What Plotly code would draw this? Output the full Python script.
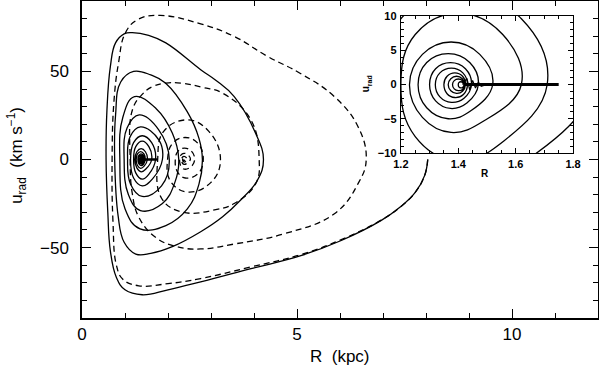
import plotly.graph_objects as go

# ---- data (R in kpc, u_rad in km/s) ----
solid_R = [8.04, 7.97, 7.74, 7.40, 6.96, 6.03, 5.09, 3.93, 2.76, 2.00, 1.40, 1.00, 0.80, 0.66, 0.60, 0.56,
           0.58, 0.66, 0.78, 0.98, 1.17, 1.55, 1.95, 2.76, 3.11, 3.54, 4.04, 4.22,
           4.08, 3.69, 3.27, 2.76, 2.10, 1.60, 1.25, 0.98, 0.84, 0.76, 0.78, 0.90, 1.20, 1.60, 1.94, 2.45, 2.72, 2.80,
           2.72, 2.45, 1.95, 1.35, 1.00, 0.88, 0.95, 1.22, 1.72, 2.10, 2.25,
           2.16, 1.87, 1.36, 1.08, 0.98, 1.05, 1.33, 1.78, 2.03,
           1.85, 1.40, 1.13, 1.06, 1.12, 1.36, 1.79, 1.87,
           1.64, 1.40, 1.20, 1.13, 1.20, 1.40, 1.62, 1.71,
           1.56, 1.40, 1.25, 1.20, 1.25, 1.40, 1.555, 1.62,
           1.49, 1.375, 1.275, 1.23, 1.275, 1.375, 1.475, 1.52,
           1.445, 1.365, 1.29, 1.26, 1.29, 1.365, 1.44, 1.47,
           1.43, 1.373, 1.321, 1.30, 1.321, 1.373, 1.425, 1.446,
           1.42, 1.376, 1.336, 1.32, 1.336, 1.376, 1.416, 1.432,
           1.418, 1.388, 1.361, 1.35, 1.361, 1.388, 1.415, 1.425,
           1.415, 1.394, 1.374, 1.365, 1.374, 1.394, 1.414, 1.422,
           1.416, 1.40, 1.386, 1.38, 1.386, 1.40, 1.414, 1.42,
           1.416, 1.409, 1.402, 1.40, 1.402, 1.409, 1.416, 1.418]
solid_u = [0, -9, -19, -27, -34.6, -46, -54.6, -62, -69.5, -74, -76.8, -74, -67, -52, -30, 0,
           28, 52.9, 66.2, 71.3, 72, 70.5, 66.2, 51, 45, 35.7, 14.8, 0,
           -11.8, -23, -32.5, -41, -49.5, -53.3, -53.7, -47, -32, 0, 25, 44, 50, 48, 43.4, 27, 12, 0,
           -14, -28, -37.5, -39.4, -28, 0, 24, 35.7, 29, 15, 0,
           -13, -25, -29, -20, 0, 18, 25.3, 17, 0,
           -15, -21, -14, 0, 13, 18.5, 11, 0,
           -11, -15, -10.5, 0, 9.6, 13.5, 9.6, 0,
           -8.2, -11.2, -7.6, 0, 7.3, 10.4, 7.3, 0,
           -5.3, -7, -4.8, 0, 4.4, 6.2, 4.4, 0,
           -3.8, -5, -3.4, 0, 3.2, 4.5, 3.2, 0,
           -2.7, -3.5, -2.4, 0, 2.3, 3.2, 2.3, 0,
           -2.0, -2.6, -1.8, 0, 1.7, 2.4, 1.7, 0,
           -1.45, -1.9, -1.35, 0, 1.2, 1.7, 1.2, 0,
           -1.0, -1.3, -0.92, 0, 0.85, 1.2, 0.85, 0,
           -0.7, -0.9, -0.64, 0, 0.57, 0.8, 0.57, 0,
           -0.4, -0.5, -0.35, 0, 0.28, 0.4, 0.28, 0]

dashed_R = [8.04, 7.97, 7.74, 7.40, 6.96, 6.03, 5.09, 3.93, 2.76, 2.00, 1.32, 0.95, 0.80, 0.72, 0.70,
            0.74, 0.85, 1.01, 1.30, 1.82, 2.76, 3.53, 4.31, 5.07, 5.87, 6.42, 6.61,
            6.42, 5.87, 4.70, 3.54, 2.76, 2.20, 1.71, 1.32, 1.17, 1.12,
            1.17, 1.40, 1.64, 1.95, 2.30, 2.80, 3.27, 3.93, 4.12,
            4.04, 3.54, 3.11, 2.34, 1.85, 1.76, 1.90, 2.45, 2.95, 3.22,
            3.00, 2.45, 2.05, 1.99, 2.10, 2.40, 2.70, 2.82,
            2.70, 2.40, 2.22, 2.17, 2.23, 2.38, 2.55, 2.62,
            2.54, 2.38, 2.30, 2.27, 2.30, 2.37, 2.47, 2.52,
            2.37, 2.31, 2.37, 2.45,
            2.37, 2.34, 2.37, 2.41,
            2.37, 2.36]
dashed_u = [0, -9, -19, -27, -34.4, -45.5, -54, -61, -67.6, -70.5, -71.7, -68, -60, -35, 0,
            32, 55, 72, 79.5, 81.8, 77, 70, 58.6, 49, 35.7, 18.6, 0,
            -13.7, -30.8, -42.2, -48, -50.8, -49.5, -44.2, -32.7, -19.4, 0,
            28, 37, 41.4, 43.4, 43.4, 41, 37.7, 22.4, 0,
            -13.7, -25, -28.5, -29.9, -22, 0, 16, 22.5, 16, 0,
            -13, -18.5, -12, 0, 9, 12.5, 9, 0,
            -8, -10.5, -7, 0, 4.6, 6.5, 4.6, 0,
            -4, -5.5, -3.8, 0, 2.5, 3.5, 2.5, 0,
            -2.8, 0, 1.8, 0,
            -1.4, 0, 0.8, 0,
            -0.5, 0]

feather_R = [1.415, 1.43, 1.44, 1.45, 1.46, 1.47, 1.48, 1.50]
feather_u = [0, 0.9, -0.8, 0.6, -0.5, 0.35, -0.25, 0]
bar_R = [1.42, 1.75]
bar_u = [0, 0]

main_xticks = [0, 5, 10]
main_yticks = [-50, 0, 50]
inset_xticks = [1.2, 1.4, 1.6, 1.8]
inset_yticks = [-10, -5, 0, 5, 10]

FONT = "Liberation Sans, Arial, Helvetica, sans-serif"
SPL = dict(shape="spline", smoothing=1.2)
fig = go.Figure()

# main panel
fig.add_trace(go.Scatter(x=solid_R, y=solid_u, mode="lines",
                         line=dict(color="black", width=1.3, **SPL),
                         xaxis="x", yaxis="y", hoverinfo="skip"))
fig.add_trace(go.Scatter(x=dashed_R, y=dashed_u, mode="lines",
                         line=dict(color="black", width=1.3, dash="6px,4px", **SPL),
                         xaxis="x", yaxis="y", hoverinfo="skip"))
fig.add_trace(go.Scatter(x=feather_R, y=feather_u, mode="lines",
                         line=dict(color="black", width=1.2), xaxis="x", yaxis="y", hoverinfo="skip"))
fig.add_trace(go.Scatter(x=bar_R, y=bar_u, mode="lines",
                         line=dict(color="black", width=2.5), xaxis="x", yaxis="y", hoverinfo="skip"))

# inset panel
fig.add_trace(go.Scatter(x=solid_R, y=solid_u, mode="lines",
                         line=dict(color="black", width=1.3, **SPL),
                         xaxis="x2", yaxis="y2", hoverinfo="skip"))
fig.add_trace(go.Scatter(x=feather_R, y=feather_u, mode="lines",
                         line=dict(color="black", width=1.2), xaxis="x2", yaxis="y2", hoverinfo="skip"))
fig.add_trace(go.Scatter(x=bar_R, y=bar_u, mode="lines",
                         line=dict(color="black", width=3), xaxis="x2", yaxis="y2", hoverinfo="skip"))

axis_common = dict(showgrid=False, zeroline=False, showline=True, linecolor="black",
                   ticks="inside", mirror="ticks", tickcolor="black", automargin=False)

fig.update_layout(
    width=599, height=368,
    margin=dict(l=82, r=1, t=1, b=50),
    paper_bgcolor="white", plot_bgcolor="white",
    showlegend=False,
    font=dict(family=FONT, color="black"),
    xaxis=dict(domain=[0, 1], range=[0, 12], tickvals=main_xticks, ticklen=9, tickwidth=1.3,
               linewidth=1.5, tickfont=dict(size=17), ticklabelstandoff=0,
               minor=dict(dtick=1, ticks="inside", ticklen=5, tickwidth=1.1, tickcolor="black"),
               anchor="y", **axis_common),
    yaxis=dict(domain=[0, 1], range=[-90, 90], tickvals=main_yticks, ticklen=9, tickwidth=1.3,
               linewidth=1.5, tickfont=dict(size=17), ticklabelstandoff=8,
               minor=dict(dtick=10, ticks="inside", ticklen=5, tickwidth=1.1, tickcolor="black"),
               anchor="x", **axis_common),
    xaxis2=dict(domain=[0.618, 0.9516], range=[1.2, 1.8], tickvals=inset_xticks,
                tickformat=".1f", ticklen=5, tickwidth=1.1, linewidth=1.3,
                tickfont=dict(size=11, weight="bold"), ticklabelstandoff=1,
                minor=dict(dtick=0.05, ticks="inside", ticklen=3, tickwidth=1, tickcolor="black"),
                anchor="y2", **axis_common),
    yaxis2=dict(domain=[0.5205, 0.9527], range=[-10, 10], tickvals=inset_yticks,
                ticklen=5, tickwidth=1.1, linewidth=1.3,
                tickfont=dict(size=11, weight="bold"), ticklabelstandoff=1,
                minor=dict(dtick=1, ticks="inside", ticklen=3, tickwidth=1, tickcolor="black"),
                anchor="x2", **axis_common),
    annotations=[
        dict(text="R  (kpc)", xref="paper", yref="paper", x=0.5, y=-0.123,
             xanchor="center", yanchor="middle", showarrow=False, font=dict(size=17)),
        dict(text="u<sub>rad</sub>  (km s<sup>−1</sup>)", xref="paper", yref="paper",
             x=-0.127, y=0.513, xanchor="center", yanchor="middle", textangle=-90,
             showarrow=False, font=dict(size=17)),
        dict(text="<b>R</b>", xref="paper", yref="paper", x=0.781, y=0.4565,
             xanchor="center", yanchor="middle", showarrow=False, font=dict(size=10)),
        dict(text="<b>u<sub>rad</sub></b>", xref="paper", yref="paper", x=0.552, y=0.74,
             xanchor="center", yanchor="middle", textangle=-90, showarrow=False, font=dict(size=10)),
    ],
)

fig.write_html("out.html", config={"displayModeBar": False},
               post_script="document.body.style.margin='0';document.body.style.overflow='hidden';")
